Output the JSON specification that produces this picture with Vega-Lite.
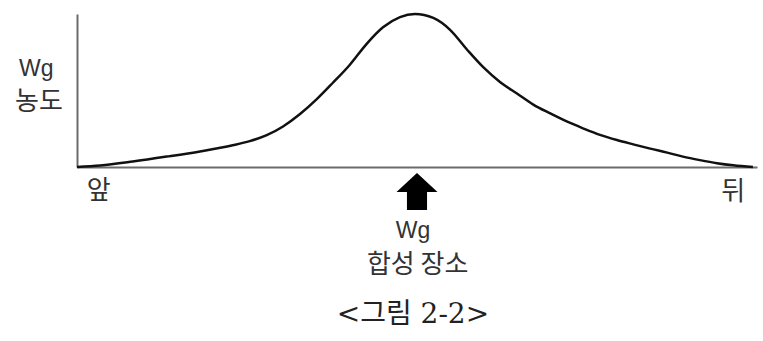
{
  "$schema": "https://vega.github.io/schema/vega-lite/v6.json",
  "autosize": {"type": "none"},
  "width": 680,
  "height": 153,
  "padding": {"left": 77, "top": 14, "right": 6, "bottom": 174},
  "background": "white",
  "config": {"view": {"stroke": null}},
  "datasets": {
    "curve": [
      {"pos": 0, "wg": 0}, {"pos": 3.4, "wg": 1.0}, {"pos": 8.2, "wg": 3.6},
      {"pos": 13.2, "wg": 6.8}, {"pos": 18.1, "wg": 10.2}, {"pos": 22.9, "wg": 14.2},
      {"pos": 25.4, "wg": 16.9}, {"pos": 27.9, "wg": 20.8}, {"pos": 30.3, "wg": 26.5},
      {"pos": 32.8, "wg": 34.6}, {"pos": 35.3, "wg": 44.5}, {"pos": 37.6, "wg": 54.9},
      {"pos": 40.1, "wg": 66.7}, {"pos": 42.6, "wg": 80.5}, {"pos": 45.0, "wg": 91.3},
      {"pos": 47.5, "wg": 98.0}, {"pos": 49.7, "wg": 100}, {"pos": 52.4, "wg": 97.4},
      {"pos": 54.9, "wg": 89.5}, {"pos": 57.4, "wg": 76.5}, {"pos": 59.7, "wg": 65.4},
      {"pos": 62.2, "wg": 55.6}, {"pos": 64.7, "wg": 48.0}, {"pos": 67.1, "wg": 40.8},
      {"pos": 69.6, "wg": 35.0}, {"pos": 72.1, "wg": 29.6}, {"pos": 74.4, "wg": 25.3},
      {"pos": 76.9, "wg": 21.0}, {"pos": 79.4, "wg": 17.6}, {"pos": 81.8, "wg": 14.8},
      {"pos": 84.3, "wg": 12.0}, {"pos": 86.8, "wg": 9.4}, {"pos": 89.1, "wg": 6.8},
      {"pos": 91.6, "wg": 4.5}, {"pos": 94.1, "wg": 2.5}, {"pos": 96.5, "wg": 1.1},
      {"pos": 99.4, "wg": 0}
    ],
    "latin": [
      {"pos": -6.0, "wg": 64.0, "label": "Wg"},
      {"pos": 49.4, "wg": -42.0, "label": "Wg"}
    ],
    "hangul": [
      {"pos": -5.6, "wg": 42.5, "label": "농도"},
      {"pos": 3.2, "wg": -15.7, "label": "앞"},
      {"pos": 96.5, "wg": -16.3, "label": "뒤"},
      {"pos": 50.1, "wg": -63.8, "label": "합성 장소"}
    ],
    "caption": [
      {"pos": 49.4, "wg": -96.7, "label": "<그림 2-2>"}
    ],
    "arrow": [
      {"pos": 50.0, "wg": -16.0}
    ]
  },
  "encoding": {
    "x": {"field": "pos", "type": "quantitative", "scale": {"domain": [0, 100], "nice": false, "zero": false},
      "axis": {"title": null, "labels": false, "ticks": false, "grid": false, "domain": true, "domainColor": "#6b6b6b", "domainWidth": 2}},
    "y": {"field": "wg", "type": "quantitative", "scale": {"domain": [0, 100], "nice": false, "zero": false},
      "axis": {"title": null, "labels": false, "ticks": false, "grid": false, "domain": true, "domainColor": "#6b6b6b", "domainWidth": 2}}
  },
  "layer": [
    {
      "data": {"name": "curve"},
      "mark": {"type": "line", "interpolate": "monotone", "color": "#111111", "strokeWidth": 2.5}
    },
    {
      "data": {"name": "arrow"},
      "mark": {"type": "point", "shape": "M0,-0.9L1,0.02L0.49,0.02L0.49,0.9L-0.49,0.9L-0.49,0.02L-1,0.02Z", "size": 1681, "filled": true, "fill": "#000000", "stroke": null, "opacity": 1}
    },
    {
      "data": {"name": "latin"},
      "mark": {"type": "text", "font": "Liberation Sans, Noto Sans CJK KR", "fontSize": 23, "color": "#333333", "align": "center", "baseline": "middle"},
      "encoding": {"text": {"field": "label"}}
    },
    {
      "data": {"name": "hangul"},
      "mark": {"type": "text", "font": "Noto Sans CJK KR", "fontSize": 26, "color": "#333333", "align": "center", "baseline": "middle"},
      "encoding": {"text": {"field": "label"}}
    },
    {
      "data": {"name": "caption"},
      "mark": {"type": "text", "font": "DejaVu Serif, Noto Sans CJK KR", "fontSize": 28, "color": "#222222", "align": "center", "baseline": "middle"},
      "encoding": {"text": {"field": "label"}}
    }
  ]
}
